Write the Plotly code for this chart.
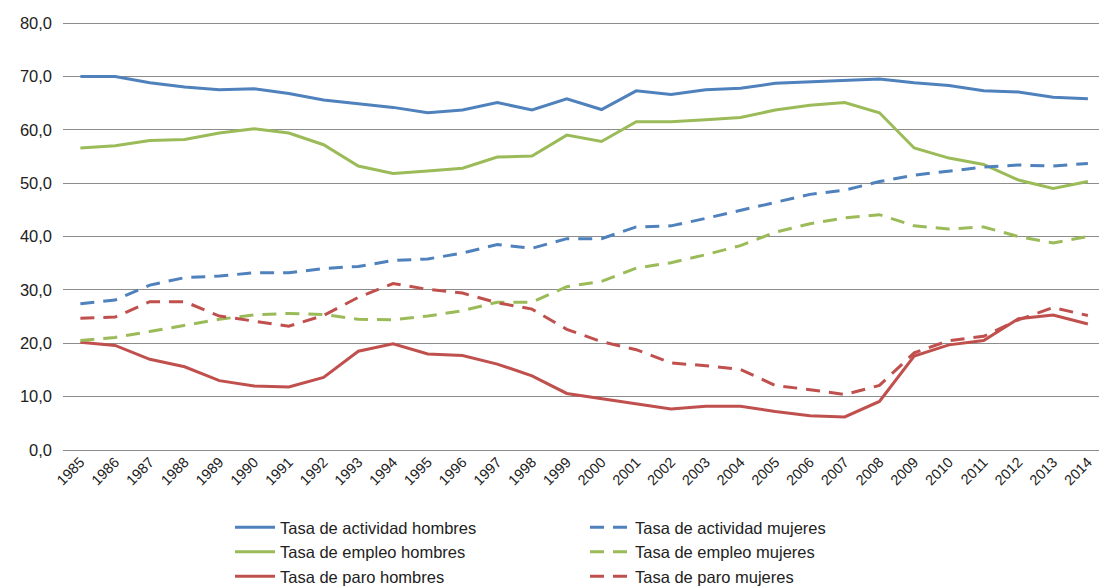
import plotly.graph_objects as go

years = [str(y) for y in range(1985, 2015)]

act_hombres = [70.0, 70.0, 68.8, 68.0, 67.5, 67.7, 66.8, 65.6, 64.9, 64.2, 63.2, 63.7, 65.1, 63.7, 65.8,
               63.8, 67.3, 66.6, 67.5, 67.8, 68.7, 69.0, 69.2, 69.5, 68.8, 68.3, 67.3, 67.1, 66.1, 65.8]
emp_hombres = [56.6, 57.0, 58.0, 58.2, 59.4, 60.2, 59.4, 57.2, 53.2, 51.8, 52.3, 52.8, 54.9, 55.1, 59.0,
               57.8, 61.5, 61.5, 61.9, 62.3, 63.7, 64.6, 65.1, 63.2, 56.6, 54.7, 53.5, 50.6, 49.0, 50.3]
paro_hombres = [20.2, 19.6, 17.0, 15.6, 13.0, 12.0, 11.8, 13.6, 18.5, 19.9, 18.0, 17.7, 16.1, 13.9, 10.6,
                9.6, 8.7, 7.7, 8.2, 8.2, 7.2, 6.4, 6.2, 9.1, 17.6, 19.7, 20.5, 24.6, 25.3, 23.6]
act_mujeres = [27.4, 28.1, 30.9, 32.3, 32.6, 33.2, 33.2, 34.0, 34.4, 35.5, 35.8, 36.9, 38.5, 37.8, 39.6,
               39.6, 41.8, 42.0, 43.4, 44.9, 46.5, 47.9, 48.7, 50.3, 51.5, 52.2, 53.0, 53.4, 53.2, 53.7]
emp_mujeres = [20.5, 21.1, 22.2, 23.4, 24.5, 25.3, 25.6, 25.4, 24.5, 24.4, 25.1, 26.1, 27.7, 27.7, 30.6,
               31.6, 34.1, 35.1, 36.6, 38.3, 40.8, 42.4, 43.5, 44.1, 42.0, 41.4, 41.8, 40.0, 38.8, 40.0]
paro_mujeres = [24.7, 24.9, 27.8, 27.8, 25.1, 24.1, 23.2, 25.2, 28.6, 31.2, 30.1, 29.4, 27.6, 26.4, 22.6,
                20.3, 18.8, 16.3, 15.8, 15.1, 12.1, 11.3, 10.4, 12.1, 18.2, 20.5, 21.3, 24.4, 26.7, 25.2]

BLUE = "#4F81BD"
GREEN = "#9BBB59"
RED = "#C0504D"
DASH = "14px,9px"

series = [
    ("Tasa de actividad hombres", act_hombres, BLUE, "solid", "legend"),
    ("Tasa de empleo hombres", emp_hombres, GREEN, "solid", "legend"),
    ("Tasa de paro hombres", paro_hombres, RED, "solid", "legend"),
    ("Tasa de actividad mujeres", act_mujeres, BLUE, DASH, "legend2"),
    ("Tasa de empleo mujeres", emp_mujeres, GREEN, DASH, "legend2"),
    ("Tasa de paro mujeres", paro_mujeres, RED, DASH, "legend2"),
]

fig = go.Figure()
for name, vals, color, dash, leg in series:
    fig.add_trace(go.Scatter(
        x=years, y=vals, name=name, mode="lines",
        line=dict(color=color, width=3, dash=dash),
        legend=leg,
    ))

FONT = "Liberation Sans"
legend_common = dict(
    orientation="v", xref="container", yref="container",
    xanchor="left", yanchor="top",
    font=dict(family=FONT, size=16.5, color="#222222"),
    bgcolor="rgba(0,0,0,0)", tracegroupgap=0, itemwidth=40,
)

fig.update_layout(
    width=1099, height=587,
    margin=dict(l=63, r=0, t=22, b=137, autoexpand=False),
    plot_bgcolor="white", paper_bgcolor="white",
    separators=",.",
    font=dict(family=FONT, size=15, color="#222222"),
    xaxis=dict(
        type="category", range=[-0.5, 29.32],
        tickmode="linear", dtick=1, automargin=False,
        showgrid=False, showline=False, zeroline=False,
        ticks="", tickangle=-45,
        tickfont=dict(family=FONT, size=14.5, color="#222222"),
    ),
    yaxis=dict(
        range=[0, 80.2], dtick=10, tickformat=".1f", automargin=False,
        showgrid=True, gridcolor="#8C8C8C", gridwidth=1,
        zeroline=True, zerolinecolor="#8C8C8C", zerolinewidth=1,
        showline=False, ticks="", ticklen=0, ticklabelstandoff=10,
        tickfont=dict(family=FONT, size=16.5, color="#222222"),
    ),
    legend=dict(x=230 / 1099, y=1 - 510 / 587, **legend_common),
    legend2=dict(x=585 / 1099, y=1 - 510 / 587, **legend_common),
)

fig.write_html(
    "out.html",
    config={"displayModeBar": False},
    post_script="document.body.style.margin='0';document.body.style.overflow='hidden';",
)
